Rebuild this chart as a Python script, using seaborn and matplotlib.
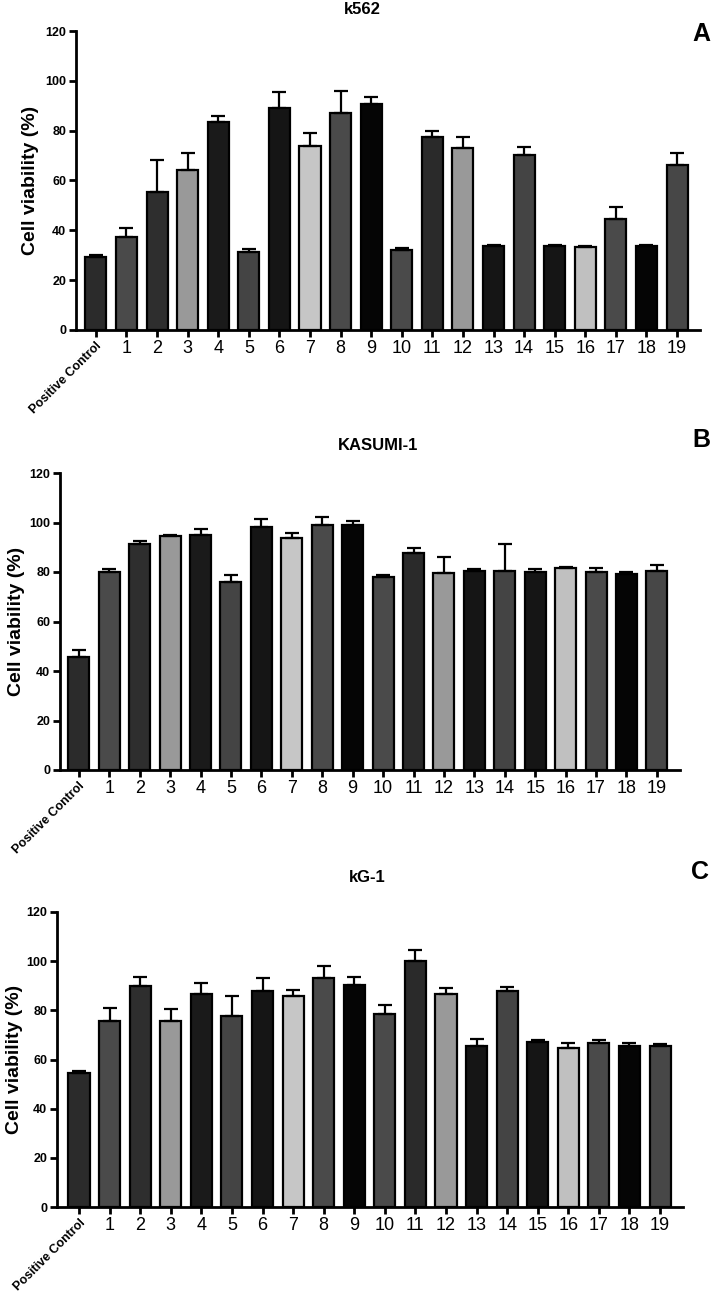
import numpy as np
import pandas as pd
import matplotlib.pyplot as plt
import seaborn as sns

labels = ['Positive Control'] + [str(i) for i in range(1, 20)]
colors = ['#2b2b2b', '#4a4a4a', '#2e2e2e', '#999999', '#1a1a1a', '#444444', '#151515',
          '#c6c6c6', '#4a4a4a', '#050505', '#4a4a4a', '#2a2a2a', '#999999', '#151515',
          '#444444', '#151515', '#c0c0c0', '#4a4a4a', '#050505', '#474747']

k562 = [29.4, 37.5, 55.5, 64.2, 83.5, 31.4, 89.0, 74.0, 87.2, 90.7,
        32.1, 77.5, 72.9, 33.7, 70.2, 33.7, 33.4, 44.5, 33.7, 66.4]
k562_err = [0.7, 3.6, 12.7, 6.7, 2.4, 1.0, 6.5, 4.9, 8.7, 2.9,
            0.7, 2.5, 4.7, 0.4, 3.4, 0.4, 0.5, 4.7, 0.4, 4.5]

kasumi = [45.8, 79.8, 91.5, 94.4, 94.8, 75.8, 98.3, 93.6, 98.8, 98.8,
          78.1, 87.5, 79.4, 80.4, 80.6, 80.1, 81.6, 80.0, 79.1, 80.6]
kasumi_err = [2.7, 1.4, 1.1, 0.6, 2.5, 2.8, 3.1, 2.1, 3.4, 2.0,
              0.5, 2.0, 6.5, 0.8, 10.8, 1.1, 0.3, 1.6, 1.0, 2.2]

kg1 = [54.6, 75.6, 90.0, 75.6, 86.8, 77.6, 87.9, 85.9, 93.1, 90.5,
       78.6, 100.0, 86.8, 65.6, 87.9, 67.3, 64.8, 66.6, 65.6, 65.6]
kg1_err = [0.8, 5.4, 3.5, 5.0, 4.3, 8.3, 5.2, 2.4, 4.8, 2.9,
           3.5, 4.6, 2.1, 2.8, 1.5, 0.7, 1.9, 1.4, 1.0, 0.6]

sns.set_style('ticks')
plt.rcParams['font.family'] = ['Liberation Sans', 'DejaVu Sans']
plt.rcParams['text.color'] = 'black'
plt.rcParams['xtick.color'] = 'black'
plt.rcParams['ytick.color'] = 'black'

W, H = 712, 1295
fig = plt.figure(figsize=(W / 100, H / 100), dpi=100)

# values, errors, title, letter, axes box px (l, t, r, b), xlim, ylabel x, title pos, letter pos
panels = [
    (k562, k562_err, 'k562', 'A', (76, 31, 700, 330), -0.65, 19.75, 22, (362, 10), (701, 34)),
    (kasumi, kasumi_err, 'KASUMI-1', 'B', (60, 473, 680, 770), -0.62, 19.76, 8, (378, 445), (701, 440)),
    (kg1, kg1_err, 'kG-1', 'C', (57, 912, 683, 1207), -0.72, 19.75, 6, (367, 877), (700, 872)),
]

for vals, errs, title, letter, box, xl, xr, ylx, tpos, lpos in panels:
    l, t, r, b = box
    ax = fig.add_axes([l / W, 1 - b / H, (r - l) / W, (b - t) / H])
    df = pd.DataFrame({'sample': labels, 'viability': vals})
    sns.barplot(data=df, x='sample', y='viability', hue='sample', order=labels,
                palette=colors, dodge=False, legend=False, width=0.69,
                edgecolor='black', linewidth=1.6, ax=ax)
    pos = np.arange(len(labels))
    ax.errorbar(pos, vals, yerr=[np.zeros(len(errs)), errs], fmt='none',
                ecolor='black', elinewidth=1.6, capsize=5, capthick=1.6, zorder=1)
    ax.set_xlim(xl, xr)
    ax.set_ylim(0, 120)
    ax.set_yticks(np.arange(0, 121, 20))
    ax.set_xlabel('')
    ax.set_ylabel('')
    sns.despine(ax=ax)
    for s in ['left', 'bottom']:
        ax.spines[s].set_linewidth(2)
        ax.spines[s].set_color('black')
    ax.tick_params(axis='both', width=2, length=5, color='black', pad=2)
    ax.tick_params(axis='y', labelsize=9)
    for lab in ax.get_yticklabels():
        lab.set_fontweight('bold')
    ax.set_xticks(pos)
    ax.set_xticklabels(labels)
    for i, lab in enumerate(ax.get_xticklabels()):
        if i == 0:
            lab.set_rotation(45)
            lab.set_ha('right')
            lab.set_va('top')
            lab.set_rotation_mode('anchor')
            lab.set_fontsize(9)
            lab.set_fontweight('bold')
        else:
            lab.set_fontsize(13)
    ax.set_facecolor('none')
    fig.text(ylx / W, 1 - ((t + b) / 2) / H, 'Cell viability (%)', rotation=90,
             ha='left', va='center', fontsize=14, fontweight='bold')
    fig.text(tpos[0] / W, 1 - tpos[1] / H, title, ha='center', va='center',
             fontsize=12, fontweight='bold')
    fig.text(lpos[0] / W, 1 - lpos[1] / H, letter, ha='center', va='center',
             fontsize=18, fontweight='bold')

fig.savefig('out.png', dpi=100, facecolor='white')
